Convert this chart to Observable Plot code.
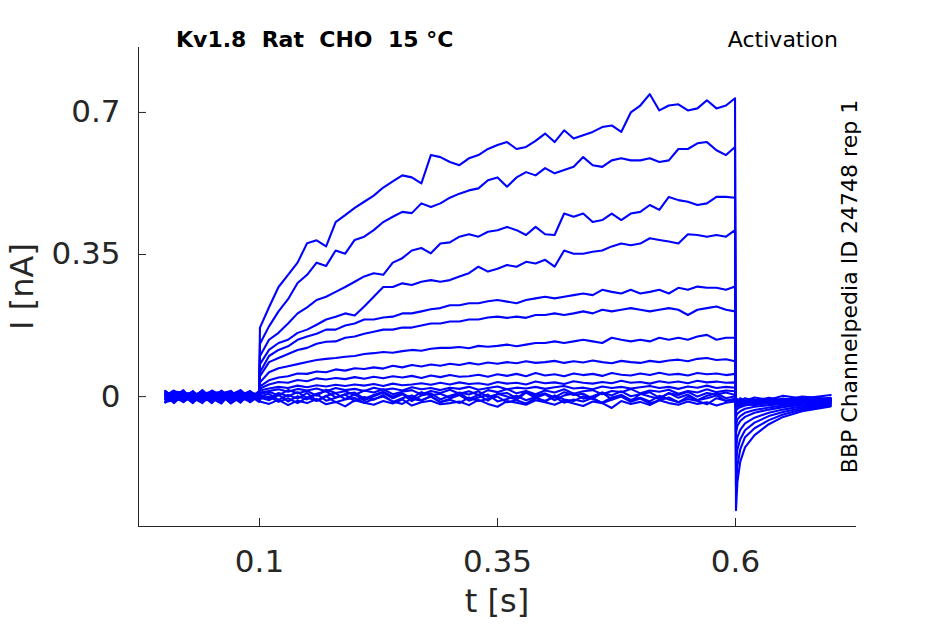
<!DOCTYPE html>
<html><head><meta charset="utf-8">
<script src="https://cdn.jsdelivr.net/npm/d3@7"></script>
<script src="https://cdn.jsdelivr.net/npm/@observablehq/plot@0.6"></script>
<style>body{margin:0;background:#fff} #chart{width:945px;height:624px}</style>
</head><body><div id="chart"></div>
<script>
// time samples [s]: pre-pulse (11), pulse (51), tail (9)
const T = [
 0.001,0.01,0.02,0.03,0.04,0.05,0.06,0.07,0.08,0.09,0.0995,
 0.1005,0.11,0.12,0.13,0.14,0.15,0.16,0.17,0.18,0.19,
 0.20,0.21,0.22,0.23,0.24,0.25,0.26,0.27,0.28,0.29,
 0.30,0.31,0.32,0.33,0.34,0.35,0.36,0.37,0.38,0.39,
 0.40,0.41,0.42,0.43,0.44,0.45,0.46,0.47,0.48,0.49,
 0.50,0.51,0.52,0.53,0.54,0.55,0.56,0.57,0.58,0.59,
 0.5995,
 0.6005,0.602,0.605,0.61,0.62,0.635,0.65,0.67,0.70
];
// currents [nA]
const I01 = [0.005,-0.008,0.012,-0.004,0.016,-0.006,0.004,-0.016,0.008,-0.002,0.006,
 0.17,0.22,0.27,0.30,0.33,0.378,0.385,0.37,0.43,0.447,
 0.465,0.48,0.495,0.515,0.53,0.545,0.54,0.525,0.595,0.59,
 0.578,0.57,0.587,0.595,0.61,0.62,0.627,0.61,0.615,0.63,
 0.648,0.627,0.656,0.636,0.644,0.652,0.664,0.668,0.652,0.70,
 0.717,0.745,0.705,0.717,0.72,0.705,0.71,0.73,0.71,0.717,
 0.735,
 -0.28,-0.21,-0.16,-0.125,-0.095,-0.068,-0.05,-0.036,-0.024];
const I02 = [-0.004,0.01,-0.006,0.008,-0.012,0.005,-0.003,0.014,-0.007,0.004,-0.002,
 0.13,0.173,0.21,0.24,0.28,0.30,0.33,0.322,0.36,0.352,
 0.386,0.394,0.41,0.43,0.443,0.455,0.452,0.476,0.467,0.476,
 0.49,0.50,0.508,0.513,0.533,0.54,0.517,0.54,0.553,0.545,
 0.563,0.55,0.558,0.566,0.59,0.57,0.566,0.582,0.587,0.582,
 0.582,0.587,0.578,0.582,0.61,0.61,0.624,0.627,0.607,0.595,
 0.615,
 -0.22,-0.17,-0.13,-0.10,-0.078,-0.058,-0.044,-0.032,-0.022];
const I03 = [0.014,-0.002,0.006,-0.013,0.003,0.009,-0.008,0.002,0.012,-0.009,0.004,
 0.10,0.14,0.157,0.18,0.205,0.22,0.238,0.246,0.258,0.27,
 0.283,0.296,0.304,0.30,0.33,0.341,0.36,0.366,0.353,0.377,
 0.38,0.394,0.40,0.394,0.406,0.41,0.418,0.41,0.398,0.418,
 0.40,0.398,0.451,0.443,0.451,0.43,0.435,0.451,0.435,0.451,
 0.455,0.472,0.46,0.492,0.484,0.48,0.472,0.476,0.492,0.492,
 0.49,
 -0.17,-0.13,-0.105,-0.083,-0.064,-0.048,-0.038,-0.028,-0.02];
const I04 = [-0.012,0.004,-0.014,0.006,0.002,-0.008,0.015,-0.004,-0.011,0.007,-0.005,
 0.08,0.115,0.132,0.14,0.157,0.165,0.177,0.19,0.197,0.205,
 0.20,0.222,0.246,0.27,0.27,0.279,0.275,0.283,0.287,0.283,
 0.287,0.296,0.304,0.32,0.308,0.315,0.324,0.32,0.332,0.328,
 0.337,0.32,0.36,0.352,0.352,0.357,0.36,0.37,0.377,0.373,
 0.377,0.39,0.386,0.382,0.377,0.40,0.398,0.394,0.398,0.394,
 0.41,
 -0.13,-0.10,-0.082,-0.066,-0.052,-0.04,-0.032,-0.024,-0.018];
const I05 = [0.002,0.015,-0.004,-0.009,0.01,-0.015,0.006,0.009,-0.003,-0.012,0.008,
 0.06,0.10,0.115,0.124,0.14,0.148,0.155,0.165,0.165,0.175,
 0.18,0.19,0.19,0.195,0.197,0.205,0.205,0.21,0.215,0.218,
 0.225,0.225,0.23,0.23,0.235,0.238,0.234,0.23,0.238,0.242,
 0.246,0.242,0.246,0.25,0.254,0.25,0.263,0.258,0.254,0.263,
 0.254,0.258,0.263,0.254,0.268,0.263,0.271,0.268,0.268,0.263,
 0.271,
 -0.09,-0.072,-0.06,-0.05,-0.04,-0.032,-0.026,-0.02,-0.016];
const I06 = [0.008,-0.013,0.003,0.012,-0.006,0.002,-0.01,0.005,0.015,-0.005,0.001,
 0.05,0.085,0.095,0.105,0.115,0.12,0.13,0.135,0.136,0.145,
 0.148,0.155,0.16,0.165,0.165,0.17,0.17,0.175,0.18,0.18,
 0.185,0.185,0.19,0.19,0.195,0.197,0.194,0.197,0.194,0.201,
 0.201,0.205,0.201,0.205,0.21,0.205,0.214,0.21,0.214,0.218,
 0.214,0.21,0.214,0.218,0.214,0.201,0.214,0.218,0.222,0.214,
 0.21,
 -0.07,-0.056,-0.048,-0.04,-0.033,-0.027,-0.022,-0.018,-0.014];
const I07 = [-0.006,0.007,0.013,-0.003,-0.016,0.01,0.003,-0.009,0.004,0.013,-0.008,
 0.035,0.06,0.07,0.075,0.08,0.085,0.09,0.093,0.095,0.098,
 0.10,0.105,0.107,0.11,0.108,0.112,0.115,0.113,0.118,0.12,
 0.12,0.122,0.119,0.125,0.123,0.125,0.128,0.124,0.128,0.132,
 0.132,0.136,0.132,0.136,0.14,0.136,0.132,0.145,0.14,0.136,
 0.14,0.136,0.145,0.14,0.145,0.14,0.148,0.152,0.14,0.145,
 0.145,
 -0.05,-0.042,-0.036,-0.03,-0.025,-0.021,-0.018,-0.015,-0.012];
const I08 = [0.012,-0.005,-0.011,0.004,0.008,-0.004,-0.017,0.01,-0.006,0.003,0.009,
 0.025,0.04,0.047,0.05,0.057,0.056,0.062,0.06,0.067,0.064,
 0.07,0.068,0.072,0.069,0.076,0.072,0.078,0.074,0.079,0.076,
 0.081,0.078,0.083,0.079,0.084,0.081,0.085,0.082,0.087,0.083,
 0.085,0.088,0.083,0.087,0.084,0.089,0.085,0.082,0.088,0.085,
 0.083,0.088,0.085,0.089,0.091,0.087,0.093,0.095,0.09,0.092,
 0.087,
 -0.035,-0.03,-0.026,-0.022,-0.019,-0.016,-0.014,-0.012,-0.01];
const I09 = [-0.015,0.003,0.008,-0.007,0.005,0.013,-0.005,-0.002,0.009,-0.014,0.002,
 0.02,0.03,0.036,0.034,0.041,0.038,0.045,0.042,0.046,0.043,
 0.048,0.044,0.049,0.045,0.05,0.047,0.051,0.046,0.052,0.048,
 0.053,0.049,0.05,0.054,0.049,0.055,0.051,0.056,0.05,0.058,
 0.052,0.055,0.05,0.057,0.053,0.056,0.051,0.058,0.054,0.052,
 0.057,0.053,0.059,0.054,0.056,0.052,0.058,0.055,0.057,0.053,
 0.056,
 -0.028,-0.024,-0.02,-0.018,-0.016,-0.013,-0.012,-0.01,-0.008];
const I10 = [0.004,-0.016,0.005,0.01,-0.004,-0.011,0.008,0.014,-0.013,0.006,-0.004,
 0.015,0.02,0.024,0.021,0.027,0.023,0.028,0.025,0.029,0.026,
 0.03,0.027,0.031,0.026,0.032,0.028,0.03,0.033,0.029,0.034,
 0.03,0.035,0.031,0.033,0.029,0.036,0.032,0.034,0.03,0.037,
 0.033,0.035,0.031,0.038,0.034,0.032,0.036,0.033,0.039,0.034,
 0.036,0.032,0.038,0.034,0.037,0.033,0.039,0.035,0.037,0.034,
 0.035,
 -0.022,-0.019,-0.017,-0.015,-0.012,-0.014,-0.009,-0.011,-0.006];
const I11 = [-0.002,0.011,-0.013,0.002,0.013,-0.003,-0.007,0.006,0.002,-0.006,0.014,
 0.01,0.014,0.018,0.012,0.019,0.015,0.02,0.013,0.021,0.016,
 0.019,0.014,0.022,0.017,0.02,0.015,0.023,0.018,0.021,0.016,
 0.022,0.019,0.024,0.017,0.021,0.025,0.018,0.022,0.02,0.024,
 0.019,0.023,0.026,0.02,0.022,0.018,0.025,0.021,0.024,0.02,
 0.023,0.026,0.021,0.024,0.019,0.025,0.022,0.027,0.021,0.024,
 0.022,
 -0.018,-0.016,-0.013,-0.016,-0.01,-0.012,-0.007,-0.01,-0.004];
const I12 = [0.009,-0.006,0.002,-0.016,0.006,0.008,0.012,-0.013,-0.004,0.009,-0.009,
 0.006,0.012,0.003,0.016,0.008,0.014,0.002,0.017,0.009,0.013,
 0.004,0.015,0.01,0.018,0.006,0.012,0.016,0.005,0.014,0.009,
 0.017,0.007,0.013,0.004,0.016,0.011,0.019,0.008,0.014,0.006,
 0.015,0.01,0.018,0.007,0.013,0.016,0.006,0.014,0.011,0.019,
 0.008,0.015,0.012,0.017,0.007,0.014,0.01,0.018,0.011,0.015,
 0.013,
 -0.015,-0.012,-0.016,-0.011,-0.014,-0.008,-0.012,-0.006,-0.009];
const I13 = [-0.008,0.013,0.009,0.005,-0.013,-0.001,-0.004,0.003,0.016,-0.003,0.005,
 0.002,-0.004,0.009,0.001,0.011,-0.003,0.007,0.013,-0.002,0.006,
 0.01,-0.005,0.004,0.012,0.0,0.008,-0.004,0.011,0.003,0.007,
 -0.003,0.01,0.005,0.013,-0.001,0.006,0.009,-0.004,0.012,0.002,
 0.008,-0.002,0.011,0.004,0.007,-0.005,0.01,0.003,0.013,0.001,
 0.006,0.011,-0.003,0.008,0.004,0.012,0.0,0.009,0.005,0.01,
 0.004,
 -0.012,-0.015,-0.009,-0.013,-0.007,-0.012,-0.005,-0.011,-0.003];
const I14 = [0.006,0.001,-0.012,0.009,0.001,-0.016,0.013,-0.006,-0.009,0.014,-0.006,
 0.0,0.007,-0.008,0.004,-0.005,0.009,-0.01,0.002,0.008,-0.006,
 0.005,-0.009,0.001,0.01,-0.004,0.006,-0.011,0.003,0.008,-0.007,
 0.002,0.009,-0.006,0.004,-0.01,0.007,0.0,-0.008,0.01,-0.003,
 0.006,-0.009,0.003,0.008,-0.005,0.001,0.01,-0.007,0.004,-0.012,
 0.007,0.0,-0.006,0.009,-0.003,0.005,-0.009,0.002,0.008,-0.004,
 0.001,
 -0.01,-0.006,-0.012,-0.004,-0.011,-0.003,-0.009,0.0,-0.006];
const I15 = [-0.013,-0.009,0.004,-0.005,0.011,0.006,-0.013,0.008,0.005,-0.008,0.012,
 -0.002,-0.009,0.004,-0.012,0.001,-0.007,0.006,-0.01,-0.003,0.005,
 -0.011,-0.001,-0.008,0.004,-0.013,-0.004,0.003,-0.009,0.0,-0.014,
 -0.005,0.004,-0.01,-0.002,0.005,-0.012,-0.006,0.002,-0.009,-0.001,
 -0.013,0.003,-0.007,-0.011,0.001,-0.006,-0.015,-0.002,0.004,-0.008,
 -0.003,-0.012,0.002,-0.007,-0.014,0.0,-0.009,-0.004,0.003,-0.011,
 -0.005,
 -0.02,-0.014,-0.018,-0.01,-0.016,-0.008,-0.013,-0.017,-0.011];
const I16 = [0.001,0.006,-0.007,0.014,-0.008,0.015,0.002,-0.017,-0.001,0.002,-0.013,
 -0.006,0.0,-0.013,-0.004,-0.016,-0.002,-0.011,0.001,-0.014,-0.007,
 -0.003,-0.015,-0.006,0.0,-0.012,-0.018,-0.005,-0.01,0.001,-0.013,
 -0.008,-0.016,-0.002,-0.011,-0.006,0.0,-0.014,-0.009,-0.017,-0.004,
 -0.01,-0.001,-0.015,-0.007,-0.012,-0.003,-0.016,-0.008,0.0,-0.013,
 -0.005,-0.017,-0.009,-0.002,-0.014,-0.006,-0.011,-0.019,-0.004,-0.01,
 -0.008,
 -0.008,-0.013,-0.004,-0.01,-0.002,-0.008,0.002,-0.005,0.004];
const I17 = [0.013,-0.003,0.016,-0.012,0.004,-0.007,0.011,0.001,-0.015,0.012,0.003,
 -0.012,-0.018,-0.008,-0.021,-0.01,-0.016,-0.006,-0.019,-0.013,-0.024,
 -0.009,-0.015,-0.02,-0.011,-0.017,-0.007,-0.022,-0.014,-0.01,-0.019,
 -0.016,-0.012,-0.021,-0.008,-0.018,-0.025,-0.011,-0.015,-0.02,-0.009,
 -0.014,-0.02,-0.01,-0.017,-0.023,-0.012,-0.016,-0.028,-0.011,-0.018,
 -0.013,-0.021,-0.009,-0.016,-0.02,-0.012,-0.018,-0.014,-0.022,-0.015,
 -0.012,
 -0.025,-0.02,-0.024,-0.017,-0.021,-0.015,-0.019,-0.012,-0.016];

const X_TICKS = [0.1, 0.35, 0.6];
const Y_TICKS = [0, 0.35, 0.7];
const TITLE = "Kv1.8  Rat  CHO  15 °C";
const PROTOCOL = "Activation";
const SOURCE = "BBP Channelpedia ID 24748 rep 1";

const TRACES = [I01,I02,I03,I04,I05,I06,I07,I08,I09,I10,I11,I12,I13,I14,I15,I16,I17];
const rows = [];
const bad = [];
TRACES.forEach((arr, k) => {
  if (arr.length !== T.length) bad.push(k + 1 + ":" + arr.length);
  arr.forEach((v, i) => { if (i < T.length) rows.push({t: T[i], I: v, trace: k}); });
});

const W = 945, H = 624, mL = 138, mR = 89, mT = 47, mB = 98;
const pw = W - mL - mR, ph = H - mT - mB;
const xDom = [-0.0271, 0.7271], yDom = [-0.32, 0.86];
const ink = "#262626";

const svg = Plot.plot({
  width: W, height: H,
  marginLeft: mL, marginRight: mR, marginTop: mT, marginBottom: mB,
  x: {domain: xDom, axis: null},
  y: {domain: yDom, axis: null},
  style: {fontFamily: "DejaVu Sans", background: "white", color: ink, overflow: "visible"},
  marks: [
    Plot.line(rows, {x: "t", y: "I", z: "trace", stroke: "#0000ff", strokeWidth: 2.1, strokeLinejoin: "round"}),
    Plot.ruleX([xDom[0]], {stroke: ink, strokeWidth: 1}),
    Plot.ruleY([yDom[0]], {stroke: ink, strokeWidth: 1}),
    Plot.tickY(Y_TICKS, {y: d => d, stroke: ink, insetRight: pw - 8}),
    Plot.tickX(X_TICKS, {x: d => d, stroke: ink, insetTop: ph - 8}),
    Plot.text(Y_TICKS, {y: d => d, text: d => String(d), frameAnchor: "left", textAnchor: "end", dx: -18, fontSize: 31, fill: ink, lineAnchor: "middle"}),
    Plot.text(X_TICKS, {x: d => d, text: d => String(d), frameAnchor: "bottom", dy: 36, fontSize: 31, fill: ink, lineAnchor: "middle"})
  ]
});

const s = d3.select(svg);
s.append("text").attr("x", 176).attr("y", 47).attr("font-size", 22).attr("font-weight", "bold")
  .attr("text-anchor", "start").attr("fill", "#000").style("white-space", "pre").text(TITLE);
s.append("text").attr("x", 838).attr("y", 47).attr("font-size", 22).attr("text-anchor", "end")
  .attr("fill", "#000").text(PROTOCOL);
s.append("text").attr("transform", "translate(857,286.5) rotate(-90)").attr("font-size", 22)
  .attr("text-anchor", "middle").attr("fill", "#000").text(SOURCE);
s.append("text").attr("transform", "translate(33,286.5) rotate(-90)").attr("font-size", 32)
  .attr("text-anchor", "middle").attr("fill", ink).text("I [nA]");
s.append("text").attr("x", 497).attr("y", 612).attr("font-size", 32)
  .attr("text-anchor", "middle").attr("fill", ink).text("t [s]");
if (bad.length) s.append("text").attr("x", 300).attr("y", 20).attr("fill", "red").text("len " + bad.join(" "));

document.getElementById("chart").appendChild(svg);
</script>
</body></html>
